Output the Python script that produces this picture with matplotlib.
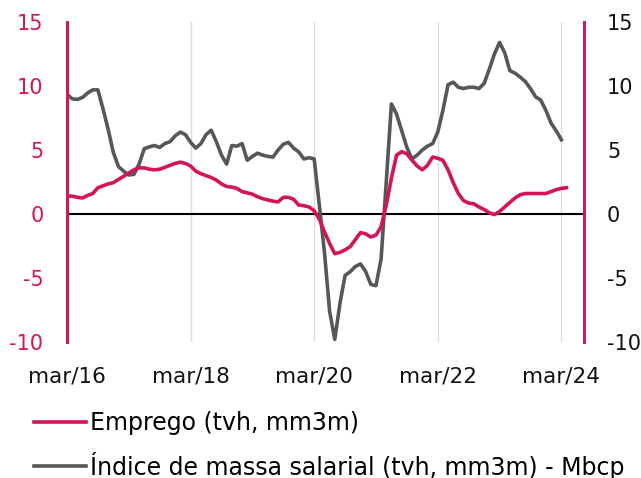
import matplotlib
matplotlib.use("Agg")
import matplotlib.pyplot as plt
import numpy as np

# Monthly data, mar/16 onwards
emprego = [1.4, 1.4, 1.3, 1.25, 1.45, 1.6, 2.05, 2.2, 2.35, 2.45, 2.7, 2.95,
           3.2, 3.45, 3.6, 3.6, 3.5, 3.45, 3.5, 3.65, 3.8, 3.95, 4.05, 3.95,
           3.75, 3.35, 3.15, 3.0, 2.85, 2.65, 2.35, 2.15, 2.1, 2.0, 1.75, 1.65,
           1.55, 1.35, 1.2, 1.1, 1.0, 0.95, 1.3, 1.3, 1.15, 0.7, 0.65, 0.55,
           0.25, -0.4, -1.4, -2.3, -3.1, -3.0, -2.8, -2.55, -2.0, -1.45, -1.55, -1.8,
           -1.65, -1.0, 0.7, 2.8, 4.6, 4.87, 4.7, 4.2, 3.75, 3.45, 3.8, 4.45,
           4.35, 4.2, 3.45, 2.45, 1.6, 1.05, 0.85, 0.8, 0.55, 0.35, 0.1, -0.05,
           0.2, 0.55, 0.9, 1.25, 1.5, 1.6, 1.6, 1.6, 1.6, 1.6, 1.75, 1.9,
           2.0, 2.05]

massa_salarial = [9.35, 9.0, 8.95, 9.1, 9.45, 9.7, 9.7, 8.2, 6.6, 4.8, 3.7, 3.35,
                  3.05, 3.1, 3.9, 5.1, 5.25, 5.35, 5.2, 5.5, 5.65, 6.1, 6.4, 6.2,
                  5.6, 5.15, 5.5, 6.2, 6.55, 5.65, 4.6, 3.9, 5.35, 5.3, 5.5, 4.2,
                  4.5, 4.75, 4.6, 4.5, 4.45, 5.0, 5.45, 5.6, 5.15, 4.85, 4.3, 4.4,
                  4.3, 0.7, -3.0, -7.6, -9.8, -7.0, -4.8, -4.5, -4.1, -3.9, -4.5, -5.5,
                  -5.6, -3.5, 2.5, 8.6, 7.8, 6.5, 5.2, 4.3, 4.6, 5.0, 5.3, 5.5,
                  6.4, 8.1, 10.1, 10.3, 9.9, 9.8, 9.9, 9.9, 9.8, 10.2, 11.3, 12.5,
                  13.4, 12.6, 11.2, 11.0, 10.7, 10.35, 9.8, 9.15, 8.9, 8.1, 7.1, 6.5,
                  5.8]

tick_labels = ["mar/16", "mar/18", "mar/20", "mar/22", "mar/24"]
tick_months = [0, 24, 48, 72, 96]
y_ticks = [-10, -5, 0, 5, 10, 15]

label_emp = "Emprego (tvh, mm3m)"
label_mas = "Índice de massa salarial (tvh, mm3m) - Mbcp"

PINK = "#D4145A"
GRAY = "#54585A"

plt.rcParams['font.family'] = ['DejaVu Sans']
plt.rcParams['axes.unicode_minus'] = False

fig = plt.figure(figsize=(6.41, 4.78), dpi=100)
ax = fig.add_axes([67/641, 1-342/478, (584-67)/641, 320/478])
ax2 = ax.twinx()

x_emp = np.arange(len(emprego))
x_mas = np.arange(len(massa_salarial))

ax.set_xlim(0, 100.4)
ax.set_ylim(-10, 15)
ax2.set_ylim(-10, 15)

for m in tick_months:
    ax.axvline(m, color="#dddddd", lw=1.0, zorder=0)
ax.axhline(0, color="black", lw=1.5, zorder=1)

l1, = ax.plot(x_emp, emprego, color=PINK, lw=2.6, solid_joinstyle='round', zorder=3, label=label_emp)
l2, = ax.plot(x_mas, massa_salarial, color=GRAY, lw=2.6, solid_joinstyle='round', zorder=2, label=label_mas)

ax.set_xticks(tick_months)
ax.set_xticklabels(tick_labels)
ax.set_yticks(y_ticks)
ax2.set_yticks(y_ticks)

ax.tick_params(axis='x', length=0, pad=18, labelsize=15.5, labelcolor="#111111")
ax.tick_params(axis='y', length=0, pad=17, labelsize=15, labelcolor=PINK)
ax2.tick_params(axis='y', length=0, pad=16.5, labelsize=15, labelcolor="#111111")

for a in (ax, ax2):
    a.spines['top'].set_visible(False)
    a.spines['bottom'].set_visible(False)
    a.spines['left'].set_color(PINK)
    a.spines['right'].set_color(PINK)
    a.spines['left'].set_linewidth(2)
    a.spines['right'].set_linewidth(2)

fig.legend(handles=[l1, l2], loc='upper left', bbox_to_anchor=(34/641, 1-411/478),
           frameon=False, fontsize=17, handlelength=2.2, handletextpad=0.17,
           labelspacing=0.7, borderaxespad=0, borderpad=0)

fig.savefig("out.png", dpi=100)
